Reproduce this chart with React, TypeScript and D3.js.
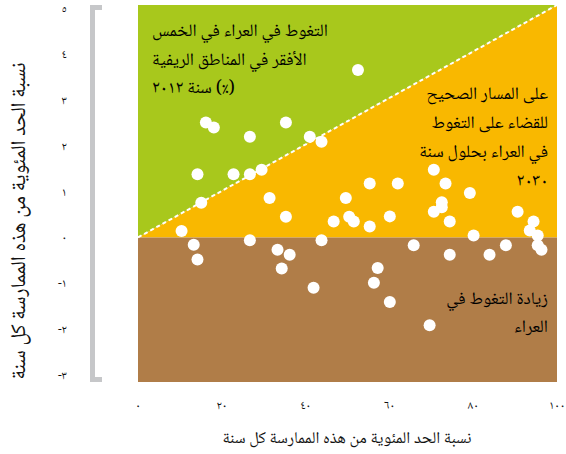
import React from "react";
import * as d3 from "d3";

// Data
const xValues = [16.2, 18.1, 35.3, 26.7, 41.0, 43.8, 14.2, 22.8, 26.7, 29.5, 15.1, 31.4, 49.6, 35.3, 50.4, 51.5, 46.7, 10.4, 26.7, 43.8, 13.3, 33.3, 36.2, 14.2, 34.3, 41.9, 52.5, 70.6, 55.3, 62.0, 73.4, 79.2, 72.5, 70.6, 72.5, 55.3, 60.1, 74.4, 90.6, 94.4, 93.5, 95.4, 80.1, 65.8, 74.4, 83.9, 87.8, 95.4, 96.3, 57.2, 56.3, 60.1, 69.6];
const yValues = [2.51, 2.40, 2.51, 2.20, 2.20, 2.09, 1.38, 1.38, 1.38, 1.48, 0.76, 0.86, 0.86, 0.45, 0.45, 0.35, 0.35, 0.14, -0.06, -0.06, -0.16, -0.27, -0.38, -0.48, -0.68, -1.10, 3.66, 1.48, 1.18, 1.18, 1.18, 0.97, 0.77, 0.56, 0.66, 0.24, 0.46, 0.35, 0.56, 0.35, 0.15, 0.04, 0.04, -0.17, -0.38, -0.38, -0.17, -0.17, -0.27, -0.67, -0.99, -1.41, -1.92];
const xTicks = [0, 20, 40, 60, 80, 100];
const yTicks = [-3, -2, -1, 0, 1, 2, 3, 4, 5];
const axisTitle = "نسبة الحد المئوية من هذه الممارسة كل سنة";
const greenLabel = ["التغوط في العراء في الخمس", "الأفقر في المناطق الريفية", "(٪) سنة ٢٠١٢"];
const orangeLabel = ["على المسار الصحيح", "للقضاء على التغوط", "في العراء بحلول سنة", "٢٠٣٠"];
const brownLabel = ["زيادة التغوط في", "العراء"];

const W = 566;
const H = 454;
const left = 138, right = 557, top = 5, bottom = 382;

const toArabicDigits = (s: string) => s.replace(/[0-9]/g, (d) => "٠١٢٣٤٥٦٧٨٩"[+d]);

const FONT = "'Noto Naskh Arabic', 'Noto Sans Arabic', 'DejaVu Sans', sans-serif";

export default function App() {
  const x = d3.scaleLinear().domain([0, 100]).range([left, right]);
  const y = d3.scaleLinear().domain([-3.16, 5.08]).range([bottom, top]);
  const yMax = y.domain()[1];
  const yMin = y.domain()[0];

  const green = [[0, 0], [100, yMax], [0, yMax]];
  const orange = [[0, 0], [100, yMax], [100, 0]];
  const brown = [[0, 0], [100, 0], [100, yMin], [0, yMin]];
  const poly = (pts: number[][]) => pts.map((p) => `${x(p[0])},${y(p[1])}`).join(" ");

  const pts = xValues.map((v, i) => [v, yValues[i]]);

  return (
    <div style={{ position: "fixed", left: 0, top: 0 }}>
      <svg width={W} height={H} style={{ display: "block", background: "#fff" }} fontFamily={FONT}>
        <polygon points={poly(green)} fill="#a8c81c" />
        <polygon points={poly(orange)} fill="#f9b800" />
        <polygon points={poly(brown)} fill="#b07d48" />
        <line x1={x(0)} y1={y(0)} x2={x(100)} y2={y(yMax)} stroke="#fff" strokeWidth={2} strokeDasharray="4,3" />

        {/* bracket */}
        <path d={`M102,${top + 2.5} H92.5 V${bottom - 2.5} H102`} fill="none" stroke="#c6c7c9" strokeWidth={5} />

        {pts.map((p, i) => (
          <circle key={i} cx={x(p[0])} cy={y(p[1])} r={6} fill="#fff" />
        ))}

        {xTicks.map((t) => (
          <text key={t} x={x(t)} y={409} textAnchor="middle" fontSize={12} fill="#111">
            {toArabicDigits(String(t))}
          </text>
        ))}
        {yTicks.map((t) => (
          <text key={t} x={67} y={y(t) + 4} textAnchor="end" fontSize={12} fill="#111">
            {toArabicDigits(String(t))}
          </text>
        ))}

        <text x={347} y={443} textAnchor="middle" fontSize={16.5} fill="#111" direction="rtl">
          {axisTitle}
        </text>
        <text transform={`translate(25,221) rotate(-90)`} textAnchor="middle" fontSize={21} fill="#111" direction="rtl">
          {axisTitle}
        </text>

        {greenLabel.map((s, i) => (
          <text key={i} x={152} y={36 + i * 28.5} textAnchor="end" direction="rtl" fontSize={17.5} fill="#000">
            {s}
          </text>
        ))}
        {orangeLabel.map((s, i) => (
          <text key={i} x={548} y={99 + i * 29} textAnchor="start" direction="rtl" fontSize={17.5} fill="#000">
            {s}
          </text>
        ))}
        {brownLabel.map((s, i) => (
          <text key={i} x={548} y={304 + i * 28} textAnchor="start" direction="rtl" fontSize={17.5} fill="#000">
            {s}
          </text>
        ))}
      </svg>
    </div>
  );
}
